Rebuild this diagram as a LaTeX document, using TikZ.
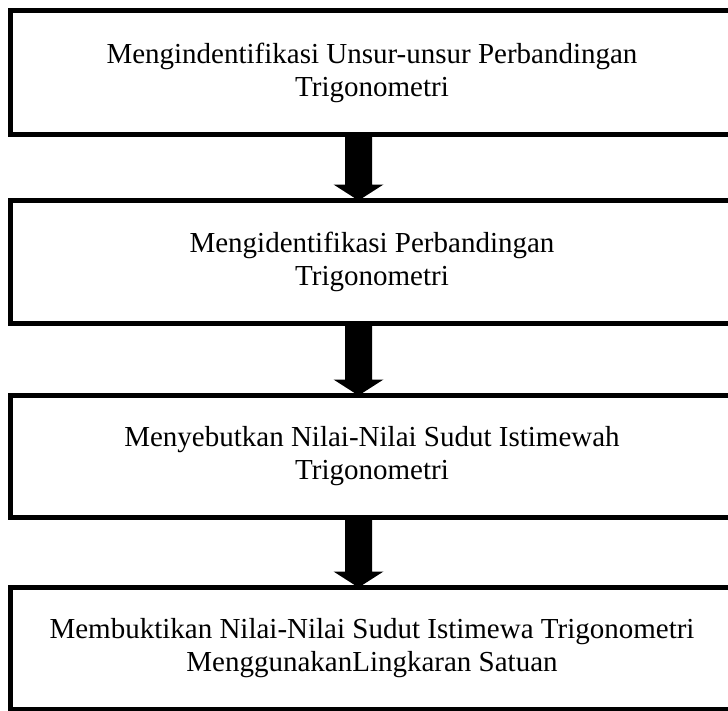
\documentclass[tikz,border=0pt]{standalone}
\usepackage{fontspec}
\setmainfont{Liberation Serif}
\usetikzlibrary{calc}
\tikzset{
  stepbox/.style={rectangle, outer sep=0pt, inner sep=0pt,
    minimum width=723pt, align=center, font=\fontsize{29}{33}\selectfont},
  boxedge/.style={draw=black, line width=5pt, line join=miter},
}
\newcommand{\myframe}[1]{%
  \draw[boxedge] ([xshift=40pt]#1.north east) -- (#1.north west)
    -- (#1.south west) -- ([xshift=40pt]#1.south east);}
\newcommand{\myblockarrow}[2]{%
  \fill let \p1=(#1.south), \p2=(#2.north) in
    (\x1-27pt,\y1) -- (\x1,\y1) -- (\x1,\y2+16pt) -- (\x1+11.5pt,\y2+16pt)
    -- (\x1-13.5pt,\y2) -- (\x1-38.5pt,\y2+16pt) -- (\x1-27pt,\y2+16pt) -- cycle;}
\begin{document}
\begin{tikzpicture}[x=1pt,y=-1pt]
  \useasboundingbox (0,0) rectangle (728,710);
  \fill[white] (0,0) rectangle (728,710);
  \clip (0,0) rectangle (728,710);
  \node[stepbox, minimum height=124pt] (b1) at (372,72.5)
    {Mengindentifikasi Unsur-unsur Perbandingan\\Trigonometri};
  \node[stepbox, minimum height=123pt] (b2) at (372,262)
    {Mengidentifikasi Perbandingan\\Trigonometri};
  \node[stepbox, minimum height=122pt] (b3) at (372,456.5)
    {Menyebutkan Nilai-Nilai Sudut Istimewah\\Trigonometri};
  \node[stepbox, minimum height=122pt] (b4) at (372,648.5)
    {Membuktikan Nilai-Nilai Sudut Istimewa Trigonometri\\MenggunakanLingkaran Satuan};
  \myframe{b1}
  \myframe{b2}
  \myframe{b3}
  \myframe{b4}
  \myblockarrow{b1}{b2}
  \myblockarrow{b2}{b3}
  \myblockarrow{b3}{b4}
\end{tikzpicture}
\end{document}
